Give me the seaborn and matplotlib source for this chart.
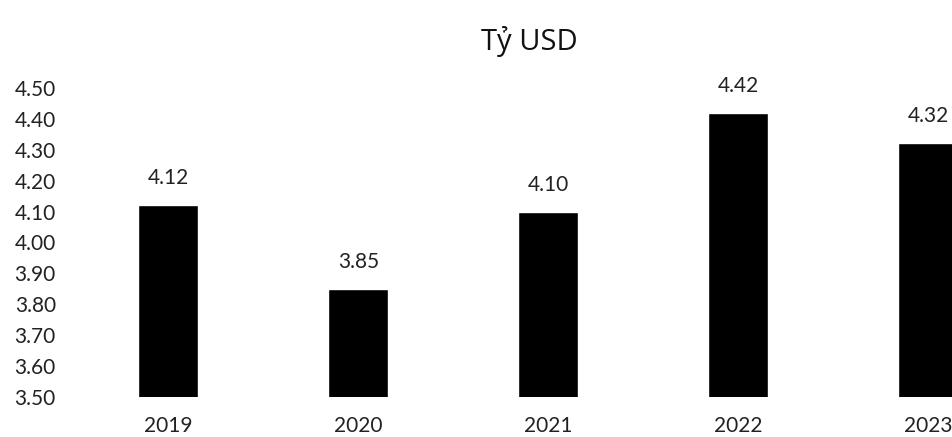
import matplotlib
matplotlib.use("Agg")
import matplotlib.pyplot as plt
import seaborn as sns
import pandas as pd

# values
years = ["2019", "2020", "2021", "2022", "2023"]
values = [4.12, 3.85, 4.10, 4.42, 4.32]
value_labels = ["4.12", "3.85", "4.10", "4.42", "4.32"]
yticks = [3.50, 3.60, 3.70, 3.80, 3.90, 4.00, 4.10, 4.20, 4.30, 4.40, 4.50]

df = pd.DataFrame({"year": years, "value": values})

sns.set_style("white")
plt.rcParams["font.family"] = ["Lato", "DejaVu Sans"]

fig = plt.figure(figsize=(9.53, 4.37), dpi=100)
ax = fig.add_axes([0.063, 0.0915, 0.937, 0.7075])

sns.barplot(data=df, x="year", y="value", color="black", width=0.315,
            saturation=1, ax=ax)

ax.set_ylim(3.5, 4.5)
ax.set_xlim(-0.57, 4.13)
ax.set_yticks(yticks)
ax.set_yticklabels([f"{t:.2f}" for t in yticks], fontsize=15, color="#222222")
ax.tick_params(axis="y", length=0, pad=3)
ax.tick_params(axis="x", length=0, pad=14, labelsize=15, labelcolor="#222222")

for i, (v, t) in enumerate(zip(values, value_labels)):
    ax.text(i, v + 0.055, t, ha="center", va="bottom", fontsize=15,
            color="#222222")

ax.set_xlabel("")
ax.set_ylabel("")
sns.despine(ax=ax, left=True, bottom=True)

fig.text(0.555, 0.905, "Tỷ USD", ha="center", va="center", fontsize=21,
         family=["Open Sans", "DejaVu Sans"], color="#111111")

fig.savefig("out.png", dpi=100)
plt.close(fig)
